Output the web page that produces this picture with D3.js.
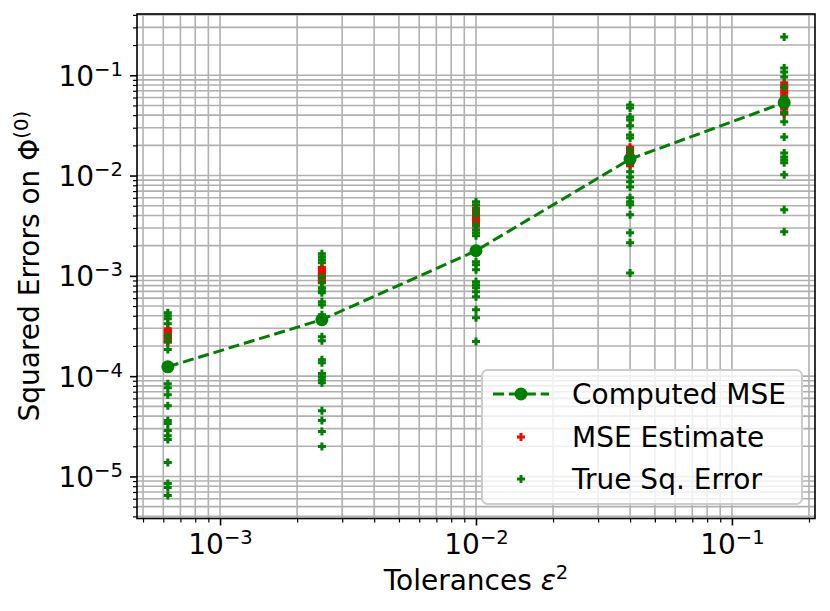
<!DOCTYPE html>
<html><head><meta charset="utf-8">
<script src="https://cdn.jsdelivr.net/npm/d3@7"></script>
<style>
body{margin:0;background:#fff}
svg{display:block}
text{font-family:"DejaVu Sans",sans-serif;fill:#000}
</style>
</head><body>
<svg id="chart" width="830" height="611"></svg>
<script>
// ---------------- data ----------------
const tolerances = [0.000625, 0.0025, 0.01, 0.04, 0.16];
const computedMSE = [1.24e-4, 3.66e-4, 1.78e-3, 1.46e-2, 5.33e-2];

const estimate1 = [2.97e-4, 2.87e-4, 2.78e-4, 2.68e-4, 2.59e-4, 2.50e-4, 2.42e-4, 2.34e-4, 2.26e-4, 2.18e-4];
const estimate2 = [1.22e-3, 1.18e-3, 1.14e-3, 1.10e-3, 1.06e-3, 1.03e-3, 9.9e-4, 9.6e-4, 9.3e-4, 8.9e-4, 8.6e-4];
const estimate3 = [4.76e-3, 4.58e-3, 4.40e-3, 4.24e-3, 4.08e-3, 3.92e-3, 3.78e-3, 3.63e-3, 3.50e-3, 3.36e-3, 3.24e-3, 3.12e-3];
const estimate4 = [1.92e-2, 1.83e-2, 1.74e-2, 1.66e-2, 1.58e-2, 1.50e-2, 1.43e-2, 1.36e-2, 1.30e-2, 1.25e-2];
const estimate5 = [8.4e-2, 7.9e-2, 7.4e-2, 7.0e-2, 6.6e-2, 6.2e-2, 5.8e-2, 5.5e-2, 5.2e-2, 4.9e-2, 4.6e-2, 4.3e-2, 4.1e-2];

const trueErr1 = [4.29e-4, 4.01e-4, 3.74e-4, 3.33e-4, 2.53e-4, 2.21e-4, 1.84e-4, 8.42e-5, 7.68e-5,
                  6.54e-5, 5.08e-5, 3.61e-5, 3.37e-5, 2.87e-5, 2.55e-5, 2.33e-5, 1.38e-5, 8.49e-6, 7.75e-6, 6.45e-6];
const trueErr2 = [1.66e-3, 1.55e-3, 1.45e-3, 1.35e-3, 9.79e-4, 8.53e-4, 7.61e-4, 7.11e-4, 6.79e-4,
                  5.52e-4, 5.15e-4, 4.10e-4, 2.47e-4, 2.26e-4, 1.46e-4, 1.36e-4, 1.06e-4, 9.89e-5, 9.23e-5,
                  8.61e-5, 4.53e-5, 3.61e-5, 2.80e-5, 1.99e-5];
const trueErr3 = [5.47e-3, 5.11e-3, 4.55e-3, 4.06e-3, 3.23e-3, 2.88e-3, 2.69e-3, 2.51e-3, 1.38e-3,
                  1.29e-3, 1.15e-3, 8.73e-4, 8.15e-4, 7.61e-4, 6.95e-4, 6.19e-4, 4.59e-4, 3.83e-4, 2.21e-4];
const trueErr4 = [5.06e-2, 4.72e-2, 3.84e-2, 3.59e-2, 3.13e-2, 2.54e-2, 2.37e-2, 1.80e-2, 1.37e-2, 1.09e-2,
                  9.70e-3, 8.65e-3, 7.71e-3, 6.00e-3, 5.47e-3, 5.11e-3, 4.06e-3, 2.69e-3, 2.14e-3, 1.07e-3];
const trueErr5 = [0.241, 0.118, 0.108, 9.62e-2, 7.65e-2, 5.94e-2, 4.21e-2, 3.43e-2,
                  2.43e-2, 1.68e-2, 1.53e-2, 1.43e-2, 1.34e-2, 1.02e-2, 4.55e-3, 2.75e-3];

const mseEstimates = [estimate1, estimate2, estimate3, estimate4, estimate5];
const trueErrors = [trueErr1, trueErr2, trueErr3, trueErr4, trueErr5];

const xTickExponents = [-3, -2, -1];
const yTickExponents = [-5, -4, -3, -2, -1];
const legendLabels = ["Computed MSE", "MSE Estimate", "True Sq. Error"];
const xLabel = "Tolerances ";
const yLabel = "Squared Errors on Φ";

// ---------------- layout ----------------
const L = 137, R = 815, T = 14, B = 518.5;
const FS = 28;
const GREEN = "#008000", RED = "#ff0000";

const svg = d3.select("#chart");

function logDomain(vals) {
  const lo = Math.log10(d3.min(vals)), hi = Math.log10(d3.max(vals));
  const pad = 0.05 * (hi - lo);
  return [Math.pow(10, lo - pad), Math.pow(10, hi + pad)];
}
const allY = [].concat(computedMSE, ...mseEstimates, ...trueErrors);
const x = d3.scaleLog().domain(logDomain(tolerances)).range([L, R]);
const y = d3.scaleLog().domain(logDomain(allY)).range([B, T]);

function minorTicks(scale) {
  const [a, b] = scale.domain();
  const out = [];
  for (let d = Math.floor(Math.log10(a)); d <= Math.ceil(Math.log10(b)); d++) {
    for (let k = 2; k <= 9; k++) {
      const v = k * Math.pow(10, d);
      if (v >= a && v <= b) out.push(v);
    }
  }
  return out;
}
const xMajor = xTickExponents.map(e => Math.pow(10, e));
const yMajor = yTickExponents.map(e => Math.pow(10, e));
const xMinor = minorTicks(x), yMinor = minorTicks(y);

// ---------------- grid ----------------
const grid = svg.append("g").attr("stroke", "#b0b0b0").attr("stroke-width", 1.6);
grid.selectAll(".gx").data(xMajor.concat(xMinor)).join("line")
  .attr("x1", d => x(d)).attr("x2", d => x(d)).attr("y1", T).attr("y2", B);
grid.selectAll(".gy").data(yMajor.concat(yMinor)).join("line")
  .attr("y1", d => y(d)).attr("y2", d => y(d)).attr("x1", L).attr("x2", R);

// ---------------- plus markers ----------------
const plusPath = (cx, cy, h) => `M${cx - h},${cy}H${cx + h}M${cx},${cy - h}V${cy + h}`;
const PH = 4;

function scatter(groups, color) {
  const pts = [];
  groups.forEach((arr, i) => arr.forEach(v => pts.push([tolerances[i], v])));
  svg.append("g").selectAll("path").data(pts).join("path")
    .attr("d", d => plusPath(x(d[0]), y(d[1]), PH))
    .attr("stroke", color).attr("stroke-width", 3).attr("fill", "none");
}
scatter(mseEstimates, RED);
scatter(trueErrors, GREEN);

// ---------------- computed MSE line ----------------
const line = d3.line().x((d, i) => x(tolerances[i])).y(d => y(d));
svg.append("path").datum(computedMSE).attr("d", line)
  .attr("fill", "none").attr("stroke", GREEN).attr("stroke-width", 3)
  .attr("stroke-dasharray", "11.1,4.8");
svg.append("g").selectAll("circle").data(computedMSE).join("circle")
  .attr("cx", (d, i) => x(tolerances[i])).attr("cy", d => y(d)).attr("r", 6.5)
  .attr("fill", GREEN);

// ---------------- frame ----------------
svg.append("rect").attr("x", L).attr("y", T).attr("width", R - L).attr("height", B - T)
  .attr("fill", "none").attr("stroke", "#000").attr("stroke-width", 1.6);

// ---------------- axes ----------------
function styleAxis(g) {
  g.select(".domain").remove();
  g.selectAll(".tick line").attr("stroke", "#000");
}
svg.append("g").attr("transform", `translate(0,${B})`)
  .call(d3.axisBottom(x).tickValues(xMinor).tickSize(4).tickFormat(""))
  .call(styleAxis).selectAll(".tick line").attr("stroke-width", 1.2);
svg.append("g").attr("transform", `translate(${L},0)`)
  .call(d3.axisLeft(y).tickValues(yMinor).tickSize(4).tickFormat(""))
  .call(styleAxis).selectAll(".tick line").attr("stroke-width", 1.2);

const xAxisG = svg.append("g").attr("transform", `translate(0,${B})`)
  .call(d3.axisBottom(x).tickValues(xMajor).tickSize(7).tickPadding(7).tickFormat(() => ""))
  .call(styleAxis);
xAxisG.selectAll(".tick line").attr("stroke-width", 1.6);
const yAxisG = svg.append("g").attr("transform", `translate(${L},0)`)
  .call(d3.axisLeft(y).tickValues(yMajor).tickSize(7).tickPadding(7).tickFormat(() => ""))
  .call(styleAxis);
yAxisG.selectAll(".tick line").attr("stroke-width", 1.6);

function powLabel(sel, exps) {
  sel.each(function (d, i) {
    const t = d3.select(this).attr("font-size", FS).attr("font-family", "DejaVu Sans");
    t.text("");
    t.append("tspan").text("10");
    t.append("tspan").attr("font-size", FS * 0.7).attr("dy", -10).text("\u2212" + Math.abs(exps[i]));
  });
}
xAxisG.selectAll(".tick text").attr("dy", "0.77em").call(powLabel, xTickExponents);
yAxisG.selectAll(".tick text").attr("dy", "0.36em").call(powLabel, yTickExponents);

// ---------------- axis labels ----------------
const xl = svg.append("text").attr("x", (L + R) / 2).attr("y", 590)
  .attr("text-anchor", "middle").attr("font-size", FS);
xl.append("tspan").text(xLabel);
xl.append("tspan").attr("font-style", "italic").text("ε");
xl.append("tspan").attr("font-size", FS * 0.7).attr("dy", -11).text("2");

const yl = svg.append("text")
  .attr("transform", `translate(39,${(T + B) / 2}) rotate(-90)`)
  .attr("text-anchor", "middle").attr("font-size", FS);
yl.append("tspan").text(yLabel);
yl.append("tspan").attr("font-size", FS * 0.7).attr("dy", -11).text("(0)");

// ---------------- legend ----------------
const lg = svg.append("g");
const LX = 482, LY = 370, LW = 320, LH = 134;
lg.append("rect").attr("x", LX).attr("y", LY).attr("width", LW).attr("height", LH)
  .attr("rx", 5.6).attr("fill", "#fff").attr("fill-opacity", 0.8)
  .attr("stroke", "#cccccc").attr("stroke-width", 2);
const rowY = [394, 437, 479];
const hx0 = 493, hx1 = 549, hc = (hx0 + hx1) / 2, tx = 572;
lg.append("line").attr("x1", hx0).attr("x2", hx1).attr("y1", rowY[0]).attr("y2", rowY[0])
  .attr("stroke", GREEN).attr("stroke-width", 3).attr("stroke-dasharray", "11.1,4.8");
lg.append("circle").attr("cx", hc).attr("cy", rowY[0]).attr("r", 6.5).attr("fill", GREEN);
lg.append("path").attr("d", plusPath(hc, rowY[1], PH)).attr("stroke", RED).attr("stroke-width", 3);
lg.append("path").attr("d", plusPath(hc, rowY[2], PH)).attr("stroke", GREEN).attr("stroke-width", 3);
lg.selectAll("text").data(legendLabels).join("text")
  .attr("x", tx).attr("y", (d, i) => rowY[i] + 10).attr("font-size", FS).text(d => d);
</script>
</body></html>
